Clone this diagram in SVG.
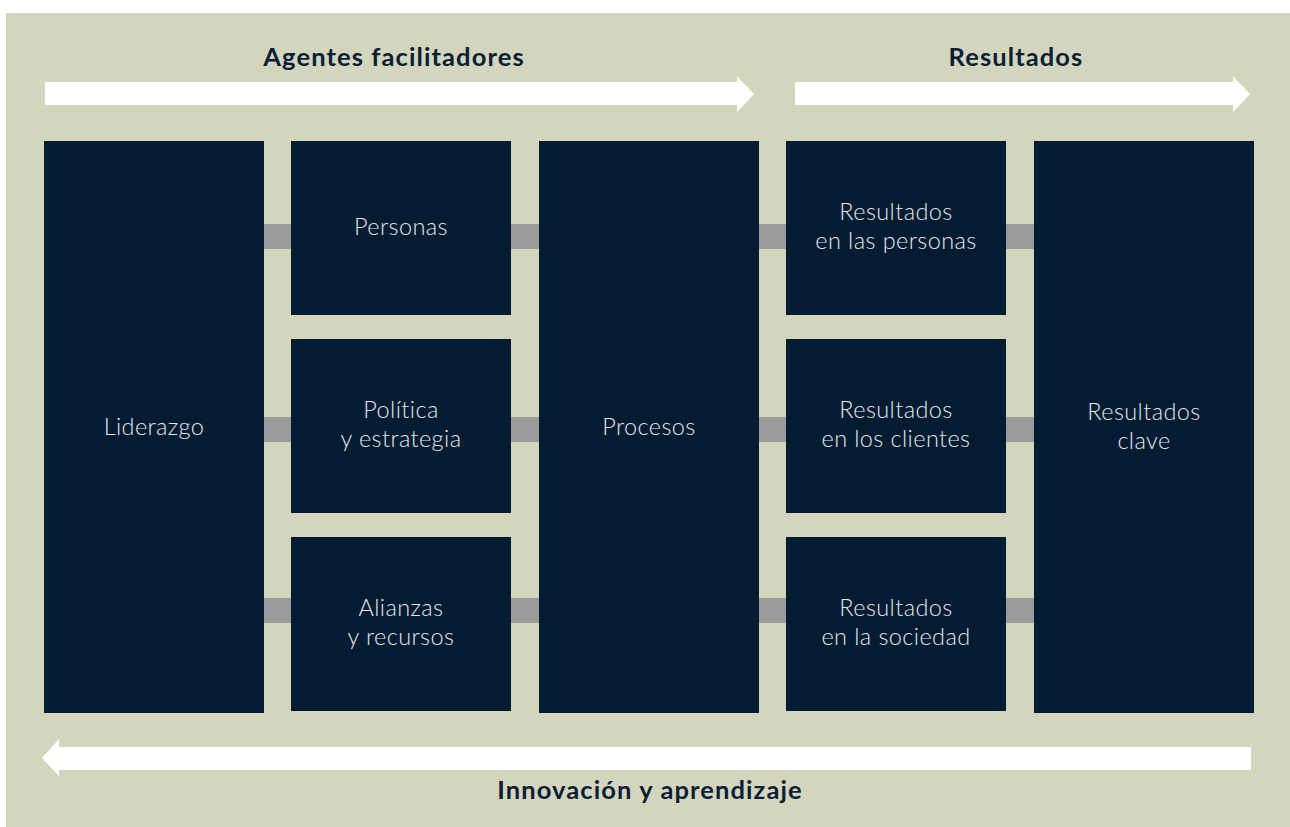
<svg xmlns="http://www.w3.org/2000/svg" width="1290" height="827" viewBox="0 0 1290 827">
  <style>
    .panel { fill: #d3d5bd; }
    .box { fill: #041c32; }
    .link { fill: #9b9b9b; }
    .flow { fill: #ffffff; }
    .label { font-family: Lato, "Open Sans", sans-serif; font-weight: 300; font-size: 23.5px; letter-spacing: 0.4px; fill: #e3e7ec; text-anchor: middle; }
    .title { font-family: Lato, "Open Sans", sans-serif; font-weight: 700; font-size: 25.5px; letter-spacing: 1.1px; fill: #0a1e35; text-anchor: middle; }
  </style>
  <rect width="1290" height="827" fill="#ffffff"/>
  <rect class="panel" x="6" y="13" width="1284" height="814"/>

  <!-- Flow arrows -->
  <g id="flow-arrows">
    <polygon class="flow" points="45,82 737,82 737,76 754,94 737,112 737,105 45,105"/>
    <polygon class="flow" points="795,82 1233,82 1233,76 1250,94 1233,112 1233,105 795,105"/>
    <polygon class="flow" points="1251,747 59,747 59,739 42,758 59,776 59,770 1251,770"/>
  </g>
  <text class="title" x="394" y="66">Agentes facilitadores</text>
  <text class="title" x="1016" y="66">Resultados</text>
  <text class="title" x="650" y="799">Innovación y aprendizaje</text>

  <!-- Connectors between columns -->
  <g id="connectors">
    <rect class="link" x="264" y="224" width="27" height="25"/>
    <rect class="link" x="264" y="417" width="27" height="25"/>
    <rect class="link" x="264" y="598" width="27" height="25"/>
    <rect class="link" x="511" y="224" width="28" height="25"/>
    <rect class="link" x="511" y="417" width="28" height="25"/>
    <rect class="link" x="511" y="598" width="28" height="25"/>
    <rect class="link" x="759" y="224" width="27" height="25"/>
    <rect class="link" x="759" y="417" width="27" height="25"/>
    <rect class="link" x="759" y="598" width="27" height="25"/>
    <rect class="link" x="1006" y="224" width="28" height="25"/>
    <rect class="link" x="1006" y="417" width="28" height="25"/>
    <rect class="link" x="1006" y="598" width="28" height="25"/>
  </g>

  <g id="liderazgo">
    <rect class="box" x="44" y="141" width="220" height="572"/>
    <text class="label" x="154" y="435">Liderazgo</text>
  </g>
  <g id="personas">
    <rect class="box" x="291" y="141" width="220" height="174"/>
    <text class="label" x="401" y="235">Personas</text>
  </g>
  <g id="politica">
    <rect class="box" x="291" y="339" width="220" height="174"/>
    <text class="label" x="401" y="418">Política</text>
    <text class="label" x="401" y="447">y estrategia</text>
  </g>
  <g id="alianzas">
    <rect class="box" x="291" y="537" width="220" height="174"/>
    <text class="label" x="401" y="616">Alianzas</text>
    <text class="label" x="401" y="645">y recursos</text>
  </g>
  <g id="procesos">
    <rect class="box" x="539" y="141" width="220" height="572"/>
    <text class="label" x="649" y="435">Procesos</text>
  </g>
  <g id="res-personas">
    <rect class="box" x="786" y="141" width="220" height="174"/>
    <text class="label" x="896" y="220">Resultados</text>
    <text class="label" x="896" y="249">en las personas</text>
  </g>
  <g id="res-clientes">
    <rect class="box" x="786" y="339" width="220" height="174"/>
    <text class="label" x="896" y="418">Resultados</text>
    <text class="label" x="896" y="447">en los clientes</text>
  </g>
  <g id="res-sociedad">
    <rect class="box" x="786" y="537" width="220" height="174"/>
    <text class="label" x="896" y="616">Resultados</text>
    <text class="label" x="896" y="645">en la sociedad</text>
  </g>
  <g id="res-clave">
    <rect class="box" x="1034" y="141" width="220" height="572"/>
    <text class="label" x="1144" y="420">Resultados</text>
    <text class="label" x="1144" y="449">clave</text>
  </g>
</svg>
